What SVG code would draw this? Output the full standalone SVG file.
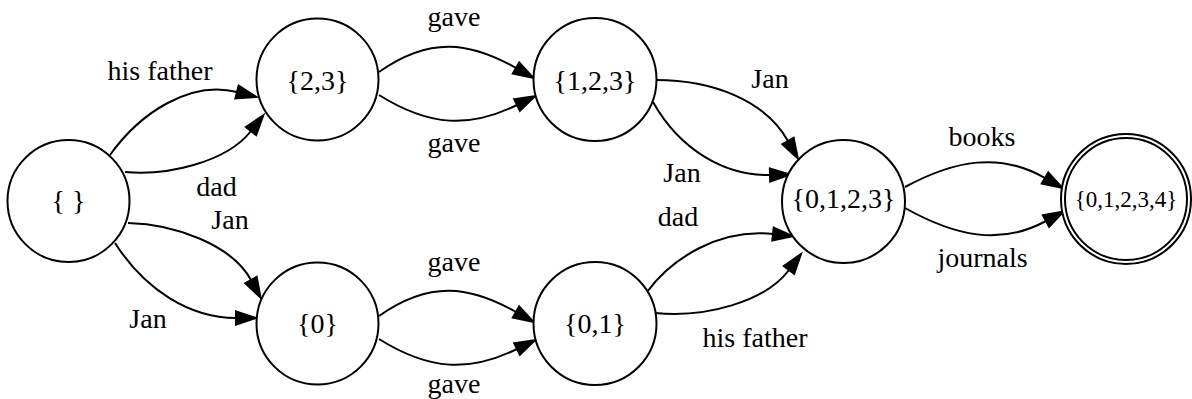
<svg xmlns="http://www.w3.org/2000/svg" width="1192" height="399" viewBox="0 0 1192 399">
<style>
.n{fill:#fff;stroke:#000;stroke-width:2}
.e{fill:none;stroke:#000;stroke-width:2;marker-end:url(#arr)}
text{font-family:"Liberation Serif","Times New Roman",serif;font-size:28px;fill:#000;text-anchor:middle}
.s{font-size:23px}
</style>
<defs>
<marker id="arr" markerUnits="userSpaceOnUse" viewBox="0 -9 24 18" markerWidth="24" markerHeight="18" refX="0" refY="0" orient="auto" overflow="visible">
<path d="M0,-6.5 L20,0 L0,6.5 z" fill="#000" stroke="#000" stroke-width="2" stroke-linejoin="miter"/>
</marker>
</defs>
<rect width="1192" height="399" fill="#fff"/>
<g id="connectors">
<path class="e" d="M110,155 C140,113 190,80 237,92"/>
<path class="e" d="M125,172 C165,176 226,163 251,131"/>
<path class="e" d="M128,223 C175,224 232,245 251,280"/>
<path class="e" d="M115,243 C145,290 190,318 236,318"/>
<path class="e" d="M379,72 C430,36 470,42 516,68"/>
<path class="e" d="M379,95 C430,127 470,128 517,105"/>
<path class="e" d="M379,316 C430,280 470,286 516,312"/>
<path class="e" d="M379,339 C430,371 470,372 517,349"/>
<path class="e" d="M656,80 C712,80 765,100 788,141"/>
<path class="e" d="M653,102 C680,150 725,176 770,175"/>
<path class="e" d="M647,292 C672,258 720,228 773,234"/>
<path class="e" d="M655,313 C705,318 765,302 789,270"/>
<path class="e" d="M905,187 C955,160 1000,152 1045,178"/>
<path class="e" d="M905,208 C955,236 1000,246 1046,221"/>
</g>
<g id="edge-labels">
<text x="160" y="80">his father</text>
<text x="216.5" y="196">dad</text>
<text x="230" y="229">Jan</text>
<text x="148" y="328">Jan</text>
<text x="454" y="26">gave</text>
<text x="454" y="152">gave</text>
<text x="454" y="271">gave</text>
<text x="454" y="393">gave</text>
<text x="770" y="88">Jan</text>
<text x="682" y="182">Jan</text>
<text x="678" y="226">dad</text>
<text x="755" y="347">his father</text>
<text x="982" y="146">books</text>
<text x="982.5" y="267">journals</text>
</g>
<g id="n_empty"><circle class="n" cx="68.5" cy="201" r="61"/><text x="68.5" y="210">{ }</text></g>
<g id="n_23"><circle class="n" cx="317.5" cy="79.5" r="61"/><text x="317.5" y="90">{2,3}</text></g>
<g id="n_123"><circle class="n" cx="595" cy="79.5" r="61.5"/><text x="595" y="90">{1,2,3}</text></g>
<g id="n_0"><circle class="n" cx="317.5" cy="323.5" r="61"/><text x="317.5" y="333">{0}</text></g>
<g id="n_01"><circle class="n" cx="595" cy="323.5" r="61.5"/><text x="595" y="333">{0,1}</text></g>
<g id="n_0123"><circle class="n" cx="843.5" cy="201.5" r="61.5"/><text x="843.5" y="208">{0,1,2,3}</text></g>
<g id="n_01234"><circle class="n" cx="1126" cy="199" r="65"/><circle class="n" cx="1126" cy="199" r="61"/><text class="s" x="1126" y="207">{0,1,2,3,4}</text></g>
</svg>
